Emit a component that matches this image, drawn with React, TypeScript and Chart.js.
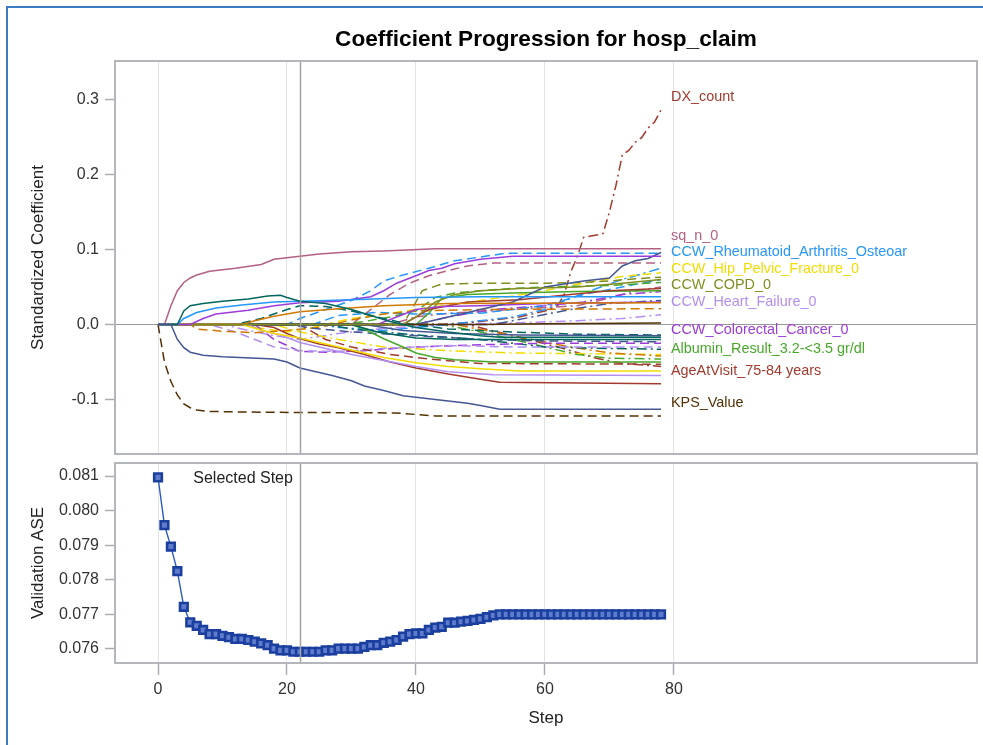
import React, { useEffect, useRef } from 'react';
import { Chart, registerables } from 'chart.js';

Chart.register(...registerables);

type Pt = [number, number];

const FONT = '"Liberation Sans", Arial, sans-serif';

// ---------- axis ticks ----------
const stepTicks = [0, 20, 40, 60, 80];
const coefTicks = [-0.1, 0, 0.1, 0.2, 0.3];
const aseTicks = [0.076, 0.077, 0.078, 0.079, 0.08, 0.081];
const selectedStep = 22;

// ---------- validation ASE per step (steps 0..78) ----------
const aseValues = [
  0.08096, 0.07958, 0.07896, 0.07825, 0.07722, 0.07677, 0.07667, 0.07655, 0.07643, 0.07643,
  0.07638, 0.07634, 0.07629, 0.07629, 0.07626, 0.07621, 0.07616, 0.07611, 0.07601, 0.07596,
  0.07596, 0.07592, 0.07592, 0.07592, 0.07592, 0.07592, 0.07596, 0.07596, 0.07601, 0.07601,
  0.07601, 0.07601, 0.07606, 0.07611, 0.07611, 0.07618, 0.07621, 0.07626, 0.07636, 0.07643,
  0.07645, 0.07645, 0.07655, 0.07662, 0.07664, 0.07676, 0.07676, 0.07679, 0.07681, 0.07684,
  0.07687, 0.07692, 0.07697, 0.077, 0.077, 0.077, 0.077, 0.077, 0.077, 0.077,
  0.077, 0.077, 0.077, 0.077, 0.077, 0.077, 0.077, 0.077, 0.077, 0.077,
  0.077, 0.077, 0.077, 0.077, 0.077, 0.077, 0.077, 0.077, 0.077,
];

// ---------- coefficient paths: [step, standardized coefficient] ----------
const kpsValue: Pt[] = [[0,0],[1,-0.05],[2,-0.076],[3,-0.094],[4,-0.106],[5,-0.111],[6,-0.114],[8,-0.116],[16,-0.117],[37,-0.118],[40,-0.12],[43,-0.122],[78,-0.122]];
const navySolid: Pt[] = [[0,0],[2,0],[3,-0.02],[4,-0.031],[5,-0.037],[7,-0.041],[10,-0.043],[18,-0.046],[20,-0.05],[22,-0.058],[24,-0.062],[27,-0.068],[30,-0.075],[32,-0.082],[35,-0.088],[38,-0.095],[42,-0.099],[45,-0.102],[48,-0.105],[50,-0.108],[53,-0.113],[78,-0.113]];
const sqN0: Pt[] = [[0,0],[1,0],[2,0.025],[3,0.045],[4,0.056],[5,0.062],[6,0.066],[8,0.071],[12,0.075],[16,0.08],[18,0.087],[21,0.09],[25,0.094],[30,0.097],[35,0.098],[43,0.101],[78,0.101]];
const dxCount: Pt[] = [[0,0],[44,0],[50,0.004],[56,0.01],[60,0.018],[62,0.025],[63,0.04],[64,0.07],[65,0.09],[66,0.116],[69,0.121],[70,0.15],[71,0.185],[72,0.226],[73,0.232],[74,0.243],[75,0.249],[76,0.262],[77,0.27],[78,0.286]];
const ccwRheum: Pt[] = [[0,0],[20,0],[22,0.008],[26,0.02],[30,0.032],[33,0.045],[35,0.058],[38,0.066],[42,0.075],[46,0.085],[50,0.09],[54,0.095],[78,0.095]];
const purpleSolid: Pt[] = [[0,0],[5,0],[7,0.008],[9,0.014],[14,0.019],[18,0.025],[22,0.029],[28,0.031],[33,0.037],[35,0.045],[37,0.055],[40,0.065],[42,0.072],[44,0.075],[46,0.081],[50,0.087],[55,0.091],[78,0.091]];
const mauveDash: Pt[] = [[0,0],[30,0],[33,0.02],[36,0.04],[39,0.055],[42,0.065],[45,0.072],[48,0.078],[52,0.082],[78,0.082]];
const navyRise: Pt[] = [[0,0],[40,0],[45,0.01],[55,0.03],[60,0.05],[66,0.058],[70,0.062],[72,0.078],[74,0.085],[76,0.088],[78,0.096]];
const ccwHip: Pt[] = [[0,0],[14,0],[16,-0.005],[20,-0.01],[24,-0.004],[30,0.008],[40,0.02],[50,0.032],[55,0.038],[60,0.045],[64,0.052],[68,0.058],[72,0.064],[78,0.069]];
const ccwCopd: Pt[] = [[0,0],[38,0],[40,0.03],[41,0.045],[44,0.054],[50,0.055],[60,0.055],[66,0.056],[70,0.058],[74,0.061],[78,0.063]];
const ccwHeart: Pt[] = [[0,0],[10,0],[14,-0.008],[18,-0.015],[22,-0.02],[28,-0.012],[35,-0.005],[45,0],[55,0.002],[65,0.005],[72,0.008],[78,0.013]];
const ccwColorectal: Pt[] = [[0,0],[15,0],[18,-0.02],[22,-0.036],[26,-0.037],[32,-0.035],[40,-0.03],[50,-0.027],[60,-0.025],[78,-0.025]];
const albumin: Pt[] = [[0,0],[30,0],[32,-0.006],[35,-0.019],[38,-0.03],[40,-0.038],[43,-0.044],[46,-0.047],[52,-0.05],[78,-0.05]];
const age7584: Pt[] = [[0,0],[15,0],[18,-0.004],[20,-0.012],[22,-0.019],[25,-0.026],[28,-0.031],[32,-0.04],[36,-0.05],[40,-0.058],[45,-0.066],[50,-0.073],[53,-0.077],[78,-0.079]];
const tealSolid: Pt[] = [[0,0],[3,0],[4,0.018],[5,0.025],[7,0.028],[10,0.031],[14,0.034],[17,0.038],[19,0.039],[20,0.036],[22,0.031],[26,0.028],[30,0.02],[33,0.012],[36,0.004],[40,-0.004],[45,-0.01],[50,-0.015],[53,-0.017],[78,-0.017]];
const blueSolid: Pt[] = [[0,0],[3,0],[4,0.008],[6,0.016],[9,0.022],[13,0.026],[18,0.03],[22,0.031],[30,0.033],[40,0.036],[50,0.037],[78,0.037]];
const orangeSolid: Pt[] = [[0,0],[13,0],[15,0.005],[18,0.011],[22,0.017],[28,0.021],[35,0.025],[45,0.028],[78,0.029]];
const yellowSolid: Pt[] = [[0,0],[13,0],[15,-0.005],[18,-0.012],[22,-0.018],[26,-0.026],[30,-0.034],[35,-0.044],[40,-0.051],[45,-0.056],[50,-0.059],[56,-0.062],[78,-0.062]];
const lilacSolid: Pt[] = [[0,0],[14,0],[16,-0.008],[19,-0.014],[22,-0.024],[26,-0.032],[30,-0.04],[35,-0.048],[40,-0.056],[45,-0.063],[52,-0.067],[78,-0.068]];
const orangeDash: Pt[] = [[0,0],[5,0],[6,-0.006],[10,-0.009],[15,-0.011],[20,-0.008],[25,-0.004],[30,0.006],[35,0.014],[40,0.018],[50,0.02],[78,0.021]];
const tealDash: Pt[] = [[0,0],[12,0],[16,0.008],[20,0.02],[22,0.025],[26,0.024],[30,0.018],[34,0.01],[38,0.002],[45,-0.006],[55,-0.01],[65,-0.013],[78,-0.014]];
const greenDash: Pt[] = [[0,0],[28,0],[32,0.004],[36,0.01],[40,0.018],[43,0.036],[46,0.042],[50,0.045],[55,0.048],[60,0.05],[70,0.052],[78,0.056]];
const navyDash: Pt[] = [[0,0],[20,0],[24,-0.005],[30,-0.01],[40,-0.015],[50,-0.02],[60,-0.022],[78,-0.023]];
const brownSolid: Pt[] = [[0,0],[50,0],[60,0.001],[78,0.002]];
const redDash: Pt[] = [[0,0],[22,0],[26,-0.02],[30,-0.03],[36,-0.04],[42,-0.046],[50,-0.052],[78,-0.053]];
const mauveDot: Pt[] = [[0,0],[36,0],[40,0.01],[45,0.015],[55,0.02],[65,0.025],[70,0.035],[74,0.045],[78,0.05]];
const oliveSolid: Pt[] = [[0,0],[38,0],[40,0.01],[43,0.03],[46,0.04],[50,0.045],[56,0.048],[65,0.05],[72,0.055],[78,0.06]];
const yellowDot: Pt[] = [[0,0],[18,0],[22,-0.01],[28,-0.02],[35,-0.03],[45,-0.035],[55,-0.038],[78,-0.04]];
const purpleDot: Pt[] = [[0,0],[40,0],[45,0.01],[52,0.02],[60,0.025],[66,0.03],[72,0.04],[78,0.044]];
const blueDot: Pt[] = [[0,0],[25,0],[28,-0.004],[35,-0.008],[45,0],[55,0.01],[60,0.02],[64,0.035],[68,0.048],[72,0.06],[76,0.07],[78,0.075]];
const tealDot: Pt[] = [[0,0],[26,0],[30,-0.006],[40,-0.014],[50,-0.02],[60,-0.03],[70,-0.032],[78,-0.033]];
const greenDot: Pt[] = [[0,0],[44,0],[50,-0.01],[55,-0.02],[60,-0.03],[65,-0.04],[70,-0.045],[78,-0.046]];
const orangeDot: Pt[] = [[0,0],[46,0],[52,-0.01],[58,-0.02],[64,-0.03],[70,-0.038],[78,-0.042]];
const redDot: Pt[] = [[0,0],[48,0],[55,-0.015],[62,-0.03],[68,-0.045],[72,-0.052],[78,-0.056]];
const lilacDash: Pt[] = [[0,0],[8,0],[12,-0.01],[18,-0.03],[22,-0.035],[28,-0.036],[35,-0.032],[45,-0.028],[55,-0.03],[78,-0.03]];
const navyDot: Pt[] = [[0,0],[52,0],[58,0.01],[64,0.02],[70,0.028],[78,0.032]];
const tealSolid2: Pt[] = [[0,0],[30,0],[34,-0.01],[40,-0.018],[46,-0.02],[52,-0.02],[78,-0.02]];
const navySolid2: Pt[] = [[0,0],[32,0],[38,-0.008],[46,-0.012],[56,-0.014],[78,-0.015]];
const purpleSolid2: Pt[] = [[0,0],[34,0],[40,0.02],[44,0.024],[50,0.025],[60,0.028],[78,0.03]];
const redSolid2: Pt[] = [[0,0],[38,0],[42,0.02],[48,0.03],[56,0.033],[64,0.04],[70,0.045],[78,0.048]];
const blueDash2: Pt[] = [[0,0],[24,0],[28,0.012],[34,0.016],[40,0.014],[50,0.015],[60,0.025],[66,0.04],[72,0.05],[78,0.06]];
const greenSolid2: Pt[] = [[0,0],[40,0],[42,0.015],[44,0.035],[48,0.04],[55,0.042],[65,0.044],[78,0.045]];

// ---------- style table (SAS HTMLBlue group colors / patterns) ----------
const C = {
  navy: '#445694', red: '#A23A2E', teal: '#01665E', brown: '#543005', purple: '#9D3CDB', olive: '#7F8E1F',
  blue: '#2597FA', mauve: '#B26084', orange: '#D17800', green: '#47A82A', lilac: '#B38EF3', yellow: '#F2DC00',
};
const SOLID: number[] = [];
const DASH = [9, 5];
const DASHDOT = [10, 4, 2, 4];

const series: { name: string; pts: Pt[]; color: string; dash: number[]; label?: boolean }[] = [
  { name: 'navySolid', pts: navySolid, color: C.navy, dash: SOLID },
  { name: 'tealSolid', pts: tealSolid, color: C.teal, dash: SOLID },
  { name: 'blueSolid', pts: blueSolid, color: C.blue, dash: SOLID },
  { name: 'purpleSolid', pts: purpleSolid, color: C.purple, dash: SOLID },
  { name: 'oliveSolid', pts: oliveSolid, color: C.olive, dash: SOLID },
  { name: 'orangeSolid', pts: orangeSolid, color: C.orange, dash: SOLID },
  { name: 'yellowSolid', pts: yellowSolid, color: C.yellow, dash: SOLID },
  { name: 'lilacSolid', pts: lilacSolid, color: C.lilac, dash: SOLID },
  { name: 'brownSolid', pts: brownSolid, color: C.brown, dash: SOLID },
  { name: 'navyRise', pts: navyRise, color: C.navy, dash: SOLID },
  { name: 'tealSolid2', pts: tealSolid2, color: C.teal, dash: SOLID },
  { name: 'navySolid2', pts: navySolid2, color: C.navy, dash: SOLID },
  { name: 'purpleSolid2', pts: purpleSolid2, color: C.purple, dash: SOLID },
  { name: 'redSolid2', pts: redSolid2, color: C.red, dash: SOLID },
  { name: 'greenSolid2', pts: greenSolid2, color: C.green, dash: SOLID },
  { name: 'Albumin_Result_3.2-<3.5 gr/dl', pts: albumin, color: C.green, dash: SOLID, label: true },
  { name: 'AgeAtVisit_75-84 years', pts: age7584, color: C.red, dash: SOLID, label: true },
  { name: 'sq_n_0', pts: sqN0, color: C.mauve, dash: SOLID, label: true },
  { name: 'navyDash', pts: navyDash, color: C.navy, dash: DASH },
  { name: 'redDash', pts: redDash, color: C.red, dash: DASH },
  { name: 'tealDash', pts: tealDash, color: C.teal, dash: DASH },
  { name: 'orangeDash', pts: orangeDash, color: C.orange, dash: DASH },
  { name: 'greenDash', pts: greenDash, color: C.green, dash: DASH },
  { name: 'lilacDash', pts: lilacDash, color: C.lilac, dash: DASH },
  { name: 'mauveDash', pts: mauveDash, color: C.mauve, dash: DASH },
  { name: 'blueDash2', pts: blueDash2, color: C.blue, dash: DASH },
  { name: 'CCW_Colorectal_Cancer_0', pts: ccwColorectal, color: C.purple, dash: DASH, label: true },
  { name: 'CCW_COPD_0', pts: ccwCopd, color: C.olive, dash: DASH, label: true },
  { name: 'CCW_Hip_Pelvic_Fracture_0', pts: ccwHip, color: C.yellow, dash: DASH, label: true },
  { name: 'CCW_Rheumatoid_Arthritis_Osteoar', pts: ccwRheum, color: C.blue, dash: DASH, label: true },
  { name: 'KPS_Value', pts: kpsValue, color: C.brown, dash: DASH, label: true },
  { name: 'navyDot', pts: navyDot, color: C.navy, dash: DASHDOT },
  { name: 'tealDot', pts: tealDot, color: C.teal, dash: DASHDOT },
  { name: 'purpleDot', pts: purpleDot, color: C.purple, dash: DASHDOT },
  { name: 'blueDot', pts: blueDot, color: C.blue, dash: DASHDOT },
  { name: 'mauveDot', pts: mauveDot, color: C.mauve, dash: DASHDOT },
  { name: 'orangeDot', pts: orangeDot, color: C.orange, dash: DASHDOT },
  { name: 'greenDot', pts: greenDot, color: C.green, dash: DASHDOT },
  { name: 'yellowDot', pts: yellowDot, color: C.yellow, dash: DASHDOT },
  { name: 'redDot', pts: redDot, color: C.red, dash: DASHDOT },
  { name: 'CCW_Heart_Failure_0', pts: ccwHeart, color: C.lilac, dash: DASHDOT, label: true },
  { name: 'DX_count', pts: dxCount, color: C.red, dash: DASHDOT, label: true },
];

const W = 983;
const PLOT_LEFT = 115;
const PLOT_RIGHT = 977;
const TOP_H = 456;
// bottom canvas: Chart.js keeps >= 8px around the plot for the markers,
// so the canvas starts 8px above the panel and is 8px wider than the page
const BOT_TOP = 455;
const BOT_W = 985;
const BOT_H = 290;
const BOT_PAD = 8;

const frameColor = '#b3b7bb';
const gridColor = '#e3e3e3';
const tickColor = '#a9adb1';
const textColor = '#333333';

function drawFrame(chart: any) {
  const { ctx, chartArea: a } = chart;
  ctx.save();
  ctx.strokeStyle = frameColor;
  ctx.lineWidth = 2;
  ctx.strokeRect(a.left, a.top, a.right - a.left, a.bottom - a.top);
  ctx.restore();
}

function drawSelected(chart: any) {
  const { ctx, chartArea: a, scales } = chart;
  const x = Math.round(scales.x.getPixelForValue(selectedStep)) + 0.5;
  ctx.save();
  ctx.strokeStyle = '#a3a3a3';
  ctx.lineWidth = 1.5;
  ctx.beginPath();
  ctx.moveTo(x, a.top);
  ctx.lineTo(x, a.bottom);
  ctx.stroke();
  ctx.restore();
}

const xScaleBase = (showTicks: boolean) => ({
  type: 'linear' as const,
  min: -6.67,
  max: 127,
  afterBuildTicks: (s: any) => { s.ticks = stepTicks.map((v) => ({ value: v })); },
  grid: {
    display: true,
    color: gridColor,
    lineWidth: 1,
    drawTicks: showTicks,
    tickLength: 12,
    tickColor: tickColor,
    tickWidth: 1.5,
  },
  border: { display: false },
});

const yFit = (s: any) => {
  s.width = PLOT_LEFT;
  s.paddingTop = 0;
  s.paddingBottom = 0;
};

export default function App() {
  const topRef = useRef<HTMLCanvasElement | null>(null);
  const botRef = useRef<HTMLCanvasElement | null>(null);

  useEffect(() => {
    if (!topRef.current || !botRef.current) return;

    const topDecor = {
      id: 'topDecor',
      beforeDatasetsDraw(chart: any) {
        const { ctx, chartArea: a, scales } = chart;
        const y0 = Math.round(scales.y.getPixelForValue(0)) + 0.5;
        ctx.save();
        ctx.strokeStyle = '#999999';
        ctx.lineWidth = 1.2;
        ctx.beginPath();
        ctx.moveTo(a.left, y0);
        ctx.lineTo(a.right, y0);
        ctx.stroke();
        ctx.restore();
      },
      afterDatasetsDraw(chart: any) {
        drawSelected(chart);
        const { ctx, scales } = chart;
        const items = series
          .filter((s) => s.label)
          .map((s) => {
            const last = s.pts[s.pts.length - 1];
            return {
              name: s.name,
              color: s.color,
              x: scales.x.getPixelForValue(last[0]) + 10,
              y: scales.y.getPixelForValue(last[1]) - 13,
            };
          })
          .sort((p, q) => p.y - q.y);
        for (let i = 1; i < items.length; i++) {
          if (items[i].y < items[i - 1].y + 16.5) items[i].y = items[i - 1].y + 16.5;
        }
        ctx.save();
        ctx.font = `14.4px ${FONT}`;
        ctx.textAlign = 'left';
        ctx.textBaseline = 'middle';
        items.forEach((it) => {
          ctx.fillStyle = it.color;
          ctx.fillText(it.name, it.x, it.y);
        });
        ctx.restore();
      },
      afterDraw(chart: any) {
        drawFrame(chart);
        const { ctx, chartArea: a } = chart;
        ctx.save();
        ctx.font = `bold 22.6px ${FONT}`;
        ctx.fillStyle = '#000';
        ctx.textAlign = 'center';
        ctx.textBaseline = 'middle';
        ctx.fillText('Coefficient Progression for hosp_claim', (a.left + a.right) / 2, 40);
        ctx.restore();
      },
    };

    const botDecor = {
      id: 'botDecor',
      afterDatasetsDraw(chart: any) {
        drawSelected(chart);
        const { ctx, chartArea: a, scales } = chart;
        ctx.save();
        ctx.font = `16px ${FONT}`;
        ctx.fillStyle = '#222';
        ctx.textAlign = 'right';
        ctx.textBaseline = 'middle';
        ctx.fillText('Selected Step', scales.x.getPixelForValue(selectedStep) - 7, a.top + 16);
        ctx.restore();
      },
      afterDraw(chart: any) {
        drawFrame(chart);
      },
    };

    const yGrid = {
      display: true,
      drawOnChartArea: false,
      drawTicks: true,
      tickLength: 10,
      color: tickColor,
      tickColor: tickColor,
      tickWidth: 1.5,
    };

    const top = new Chart(topRef.current, {
      type: 'line',
      data: {
        datasets: series.map((s) => ({
          label: s.name,
          data: s.pts.map(([x, y]) => ({ x, y })),
          borderColor: s.color,
          backgroundColor: s.color,
          borderDash: s.dash,
          borderWidth: 1.5,
          pointRadius: 0,
          fill: false,
          tension: 0,
        })),
      },
      options: {
        animation: false,
        responsive: false,
        layout: { padding: { left: 0, right: W - PLOT_RIGHT, top: 61, bottom: 2 } },
        plugins: { legend: { display: false }, tooltip: { enabled: false }, title: { display: false } },
        scales: {
          x: {
            ...xScaleBase(false),
            ticks: { display: false },
            afterFit: (s: any) => { s.height = 0; s.paddingLeft = 0; s.paddingRight = 0; },
          },
          y: {
            type: 'linear',
            min: -0.1727,
            max: 0.3513,
            afterBuildTicks: (s: any) => { s.ticks = coefTicks.map((v) => ({ value: v })); },
            afterFit: yFit,
            ticks: {
              padding: 6,
              color: textColor,
              font: { family: FONT, size: 16 },
              callback: (v: any) => Number(v).toFixed(1),
            },
            grid: yGrid,
            border: { display: false },
            title: {
              display: true,
              text: 'Standardized Coefficient',
              color: '#222',
              font: { family: FONT, size: 17 },
              padding: { top: 28, bottom: 0 },
            },
          },
        },
      },
      plugins: [topDecor],
    } as any);

    const bot = new Chart(botRef.current, {
      type: 'line',
      data: {
        datasets: [
          {
            label: 'Validation ASE',
            data: aseValues.map((v, i) => ({ x: i, y: v })),
            borderColor: '#2d5cc0',
            borderWidth: 1.4,
            pointStyle: 'rect',
            pointRadius: 5.4,
            pointBackgroundColor: '#5f7bcb',
            pointBorderColor: '#1a3f9f',
            pointBorderWidth: 2.6,
            fill: false,
            tension: 0,
          },
        ],
      },
      options: {
        animation: false,
        responsive: false,
        layout: { padding: { left: 0, right: BOT_W - PLOT_RIGHT, top: BOT_PAD, bottom: 0 } },
        plugins: { legend: { display: false }, tooltip: { enabled: false }, title: { display: false } },
        scales: {
          x: {
            ...xScaleBase(true),
            afterFit: (s: any) => { s.height = 82; s.paddingLeft = 0; s.paddingRight = 0; },
            ticks: {
              padding: 5,
              color: textColor,
              font: { family: FONT, size: 16 },
              maxRotation: 0,
              callback: (v: any) => String(v),
            },
            title: {
              display: true,
              text: 'Step',
              color: '#222',
              font: { family: FONT, size: 17 },
              padding: { top: 0, bottom: 16 },
            },
          },
          y: {
            type: 'linear',
            min: 0.075595,
            max: 0.081376,
            afterBuildTicks: (s: any) => { s.ticks = aseTicks.map((v) => ({ value: v })); },
            afterFit: yFit,
            ticks: {
              padding: 6,
              color: textColor,
              font: { family: FONT, size: 16 },
              callback: (v: any) => Number(v).toFixed(3),
            },
            grid: yGrid,
            border: { display: false },
            title: {
              display: true,
              text: 'Validation ASE',
              color: '#222',
              font: { family: FONT, size: 17 },
              padding: { top: 28, bottom: 0 },
            },
          },
        },
      },
      plugins: [botDecor],
    } as any);

    return () => {
      top.destroy();
      bot.destroy();
    };
  }, []);

  return (
    <div style={{ position: 'fixed', left: 0, top: 0, width: W, height: 745, background: '#ffffff', overflow: 'hidden' }}>
      <div
        style={{
          position: 'absolute',
          left: 6,
          top: 6,
          width: W,
          height: 760,
          borderLeft: '2px solid #3b7bc4',
          borderTop: '2px solid #3b7bc4',
        }}
      />
      <canvas
        ref={topRef}
        width={W}
        height={TOP_H}
        style={{ position: 'absolute', left: 0, top: 0, width: W, height: TOP_H }}
      />
      <canvas
        ref={botRef}
        width={BOT_W}
        height={BOT_H}
        style={{ position: 'absolute', left: 0, top: BOT_TOP, width: BOT_W, height: BOT_H }}
      />
    </div>
  );
}
